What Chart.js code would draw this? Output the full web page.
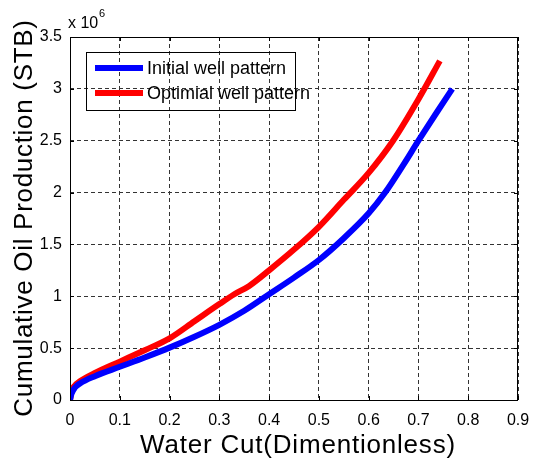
<!DOCTYPE html>
<html>
<head>
<meta charset="utf-8">
<script src="https://cdn.jsdelivr.net/npm/chart.js@4/dist/chart.umd.min.js"></script>
<style>
html,body{margin:0;padding:0;background:#fff;}
#wrap{width:535px;height:463px;position:relative;}
</style>
</head>
<body>
<div id="wrap"><canvas id="c" width="535" height="463"></canvas></div>
<script>
// Water cut (dimensionless) and cumulative oil production (x 10^6 STB)
const initialX = [0, 0.003, 0.01, 0.02, 0.05, 0.1, 0.15, 0.2, 0.25, 0.3, 0.35, 0.4, 0.45, 0.5, 0.55, 0.6, 0.633, 0.67, 0.7, 0.735, 0.768];
const initialY = [0, 0.06, 0.12, 0.16, 0.23, 0.32, 0.41, 0.505, 0.61, 0.725, 0.86, 1.02, 1.18, 1.35, 1.56, 1.8, 2.0, 2.27, 2.5, 2.76, 3.0];
const optimalX = [0, 0.003, 0.01, 0.02, 0.05, 0.1, 0.15, 0.2, 0.25, 0.3, 0.33, 0.36, 0.4, 0.45, 0.5, 0.55, 0.6, 0.649, 0.7, 0.743];
const optimalY = [0, 0.08, 0.14, 0.18, 0.26, 0.37, 0.48, 0.595, 0.76, 0.925, 1.02, 1.1, 1.25, 1.45, 1.67, 1.93, 2.19, 2.5, 2.9, 3.27];
const seriesNames = ['Initial well pattern', 'Optimial well pattern'];
const xTicks = [0, 0.1, 0.2, 0.3, 0.4, 0.5, 0.6, 0.7, 0.8, 0.9];
const yTicks = [0, 0.5, 1, 1.5, 2, 2.5, 3, 3.5];
const xTitle = 'Water Cut(Dimentionless)';
const yTitle = 'Cumulative Oil Production (STB)';
const yExponent = '6';

const FONT = '"Liberation Sans", Arial, Helvetica, sans-serif';

function pts(xs, ys){ return xs.map((x,i)=>({x:x, y:ys[i]})); }

const decor = {
  id: 'decor',
  afterDraw(chart){
    const ctx = chart.ctx, a = chart.chartArea;
    ctx.save();
    // box
    ctx.strokeStyle = '#000'; ctx.lineWidth = 1; ctx.setLineDash([]);
    ctx.strokeRect(Math.round(a.left)+0.5, Math.round(a.top)+0.5, Math.round(a.right-a.left)-1, Math.round(a.bottom-a.top));
    // inward tick marks
    const xs = chart.scales.x, ys = chart.scales.y;
    ctx.beginPath();
    xTicks.forEach(v=>{ const p=Math.round(xs.getPixelForValue(v))+0.5; ctx.moveTo(p,a.bottom); ctx.lineTo(p,a.bottom-4); ctx.moveTo(p,a.top); ctx.lineTo(p,a.top+4); });
    yTicks.forEach(v=>{ const p=Math.round(ys.getPixelForValue(v))+0.5; ctx.moveTo(a.left,p); ctx.lineTo(a.left+4,p); ctx.moveTo(a.right,p); ctx.lineTo(a.right-4,p); });
    ctx.stroke();
    // exponent label
    ctx.fillStyle = '#000';
    ctx.textBaseline = 'alphabetic'; ctx.textAlign = 'left';
    ctx.font = '16px ' + FONT;
    ctx.fillText('x 10', 68, 28);
    ctx.font = '11px ' + FONT;
    ctx.fillText(yExponent, 99, 17);
    // axis titles
    ctx.font = '26px ' + FONT;
    ctx.textAlign = 'center';
    if ('letterSpacing' in ctx) ctx.letterSpacing = '0.8px';
    ctx.fillText(xTitle, 298, 453);
    ctx.save();
    ctx.translate(32, 218);
    ctx.rotate(-Math.PI/2);
    if ('letterSpacing' in ctx) ctx.letterSpacing = '0.7px';
    ctx.fillText(yTitle, 0, 0);
    ctx.restore();
    if ('letterSpacing' in ctx) ctx.letterSpacing = '0px';
    // legend (transparent)
    ctx.strokeStyle = '#000'; ctx.lineWidth = 1;
    ctx.strokeRect(86.5, 52.5, 209, 58);
    ctx.font = '18px ' + FONT; ctx.textAlign = 'left'; ctx.textBaseline = 'middle';
    chart.data.datasets.forEach((d,i)=>{
      const y = i===0 ? 68 : 93;
      ctx.strokeStyle = d.borderColor; ctx.lineWidth = 6; ctx.lineCap = 'butt';
      ctx.beginPath(); ctx.moveTo(95, y); ctx.lineTo(143, y); ctx.stroke();
      ctx.fillStyle = '#000';
      ctx.fillText(d.label, 147, y+1);
    });
    ctx.restore();
  }
};

new Chart(document.getElementById('c'), {
  type: 'line',
  data: {
    datasets: [
      { label: seriesNames[0], data: pts(initialX, initialY), borderColor: '#0000ff', borderWidth: 6, pointRadius: 0, cubicInterpolationMode: 'monotone', fill: false },
      { label: seriesNames[1], data: pts(optimalX, optimalY), borderColor: '#ff0000', borderWidth: 6, pointRadius: 0, cubicInterpolationMode: 'monotone', fill: false }
    ]
  },
  options: {
    responsive: false,
    animation: false,
    layout: { padding: { top: 37, right: 17, left: 0, bottom: 0 } },
    plugins: { legend: { display: false }, tooltip: { enabled: false } },
    scales: {
      x: {
        type: 'linear', min: 0, max: 0.9,
        afterBuildTicks(s){ s.ticks = xTicks.map(v=>({value:v})); },
        afterFit(s){ s.height = 63; s.paddingLeft = 0; s.paddingRight = 0; },
        ticks: { color: '#000', font: { family: FONT, size: 16 }, padding: 11, maxRotation: 0,
                 callback: v => String(v) },
        grid: { color: '#333', lineWidth: 1, drawTicks: false },
        border: { display: false, dash: [4, 3] }
      },
      y: {
        type: 'linear', min: 0, max: 3.5,
        afterBuildTicks(s){ s.ticks = yTicks.map(v=>({value:v})); },
        afterFit(s){ s.width = 70; s.paddingTop = 0; s.paddingBottom = 0; },
        ticks: { color: '#000', font: { family: FONT, size: 16 }, padding: 8,
                 callback: v => String(v) },
        grid: { color: '#333', lineWidth: 1, drawTicks: false },
        border: { display: false, dash: [4, 3] }
      }
    }
  },
  plugins: [decor]
});
</script>
</body>
</html>
